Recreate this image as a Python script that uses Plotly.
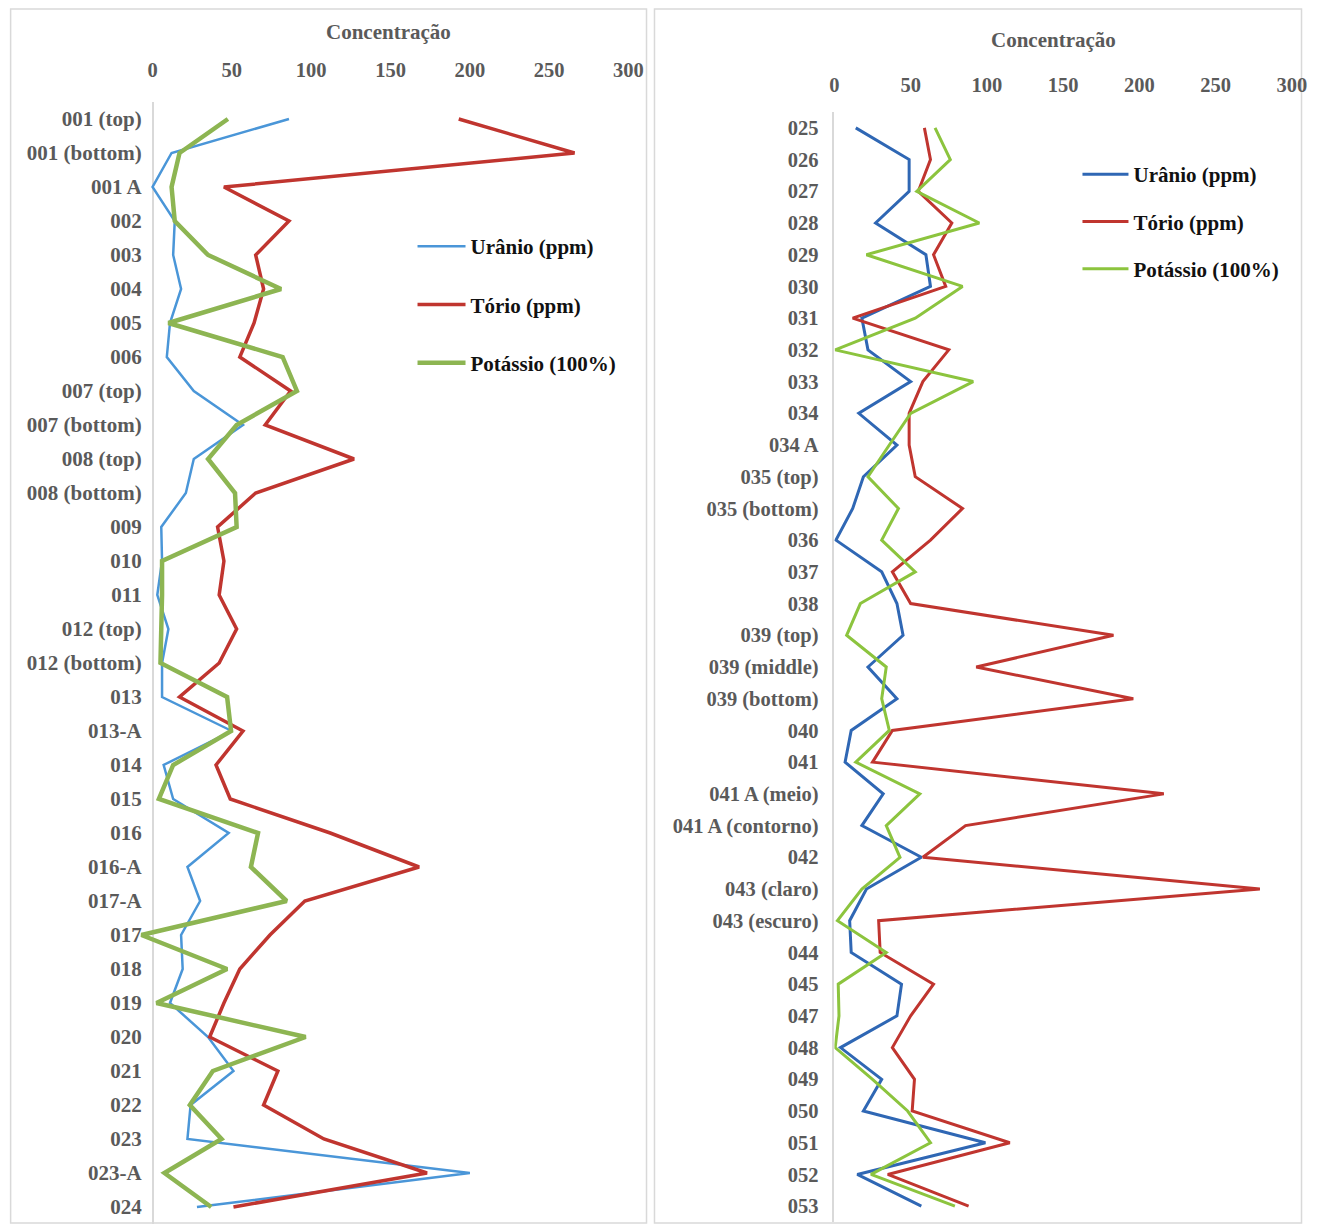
import plotly.graph_objects as go

# ---- Panel A: samples 001 to 024 ----
amostras_a = ["001 (top)", "001 (bottom)", "001 A", "002", "003", "004", "005", "006",
              "007 (top)", "007 (bottom)", "008 (top)", "008 (bottom)", "009", "010", "011",
              "012 (top)", "012 (bottom)", "013", "013-A", "014", "015", "016", "016-A",
              "017-A", "017", "018", "019", "020", "021", "022", "023", "023-A", "024"]
uranio_a = [86, 12, 0, 14, 13, 18, 11, 9, 26, 57, 26, 21, 5.5, 6, 3, 10, 6, 6, 50, 7, 13,
            48, 22, 30, 18, 19, 11, 35, 51, 24, 22, 200, 28]
torio_a = [193, 266, 45, 86, 65, 70, 64, 55, 87, 71, 127, 65, 41, 45, 42, 53, 42, 17, 57,
           40, 49, 112, 168, 96, 74, 55, 45, 36, 79, 70, 108, 173, 51]
potassio_a = [47.5, 17, 12, 14, 35, 81, 10, 82, 91, 53, 35, 52, 53, 6, 6, 5.5, 5, 47, 49.5,
              13, 4, 66.5, 62, 84.5, -7, 47, 2.5, 96.5, 38, 23.5, 43.5, 7.5, 37]

# ---- Panel B: samples 025 to 053 ----
amostras_b = ["025", "026", "027", "028", "029", "030", "031", "032", "033", "034", "034 A",
              "035 (top)", "035 (bottom)", "036", "037", "038", "039 (top)", "039 (middle)",
              "039 (bottom)", "040", "041", "041 A (meio)", "041 A (contorno)", "042",
              "043 (claro)", "043 (escuro)", "044", "045", "047", "048", "049", "050", "051",
              "052", "053"]
uranio_b = [14, 49, 49, 27, 60, 63, 18, 22, 50, 16, 41, 19, 12, 1, 31, 41, 45, 22, 41, 11,
            7, 32, 18, 57, 21, 10, 11, 44, 41, 4, 31, 19, 99, 15, 57]
torio_b = [59, 63, 55, 77, 65, 73, 12, 75, 58, 49, 49, 53, 84, 63, 38, 50, 183, 93, 196, 38,
           25, 216, 86, 58, 279, 29, 30, 65, 50, 38, 52.5, 51, 115, 35, 88]
potassio_b = [66, 76, 54, 95, 21, 84, 53, 0.5, 91, 50, 36, 22, 42, 31, 53, 17, 8, 34, 31, 36,
              14, 56, 34, 43, 18, 2, 34, 2.5, 3, 0.5, 25, 48, 63, 24, 79]

nomes = ["Urânio (ppm)", "Tório (ppm)", "Potássio (100%)"]
x_ticks = [0, 50, 100, 150, 200, 250, 300]

W, H = 1318, 1229
SERIF = "Liberation Serif"
GRAY_TXT = "#5a5a5a"
AXIS_GRAY = "#d9d9d9"

fig = go.Figure()

cores_a = ["#4a96d8", "#c0352f", "#8db552"]
larg_a = [2.5, 3.5, 4.5]
for i, (nome, vals) in enumerate(zip(nomes, [uranio_a, torio_a, potassio_a])):
    fig.add_trace(go.Scatter(
        x=vals, y=amostras_a, mode="lines", name=nome,
        line=dict(color=cores_a[i], width=larg_a[i]),
        xaxis="x", yaxis="y", legend="legend", legendgroup="a%d" % i,
    ))

cores_b = ["#2f67b4", "#c0352f", "#8cc43e"]
for i, (nome, vals) in enumerate(zip(nomes, [uranio_b, torio_b, potassio_b])):
    fig.add_trace(go.Scatter(
        x=vals, y=amostras_b, mode="lines", name=nome,
        line=dict(color=cores_b[i], width=3),
        xaxis="x2", yaxis="y2", legend="legend2", legendgroup="b%d" % i,
    ))

def px_x(p):
    return min(p / W, 1.0)

def px_y(p):
    return 1 - p / H

def serif(size, color=GRAY_TXT):
    return dict(family=SERIF, size=size, color=color, weight="bold")

fig.update_layout(
    width=W, height=H, autosize=False,
    margin=dict(l=0, r=0, t=0, b=0),
    paper_bgcolor="white", plot_bgcolor="white",
    showlegend=True,
    xaxis=dict(
        domain=[px_x(133.7), px_x(633.1)], range=[-10, 300], side="top",
        tickvals=x_ticks, showgrid=False, showline=False,
        zeroline=True, zerolinecolor=AXIS_GRAY, zerolinewidth=1.5,
        ticks="outside", ticklen=16, tickcolor="rgba(0,0,0,0)",
        tickfont=serif(20.5), anchor="y",
    ),
    yaxis=dict(
        domain=[px_y(1224), px_y(102)], type="category",
        categoryorder="array", categoryarray=amostras_a,
        range=[len(amostras_a) - 0.5, -0.5],
        showgrid=False, showline=False, zeroline=False,
        ticks="", ticklabelstandoff=-6,
        tickfont=serif(21), anchor="x",
    ),
    xaxis2=dict(
        domain=[px_x(842.2), px_x(1306.7)], range=[0, 300], side="top",
        tickvals=x_ticks, showgrid=False, showline=False, zeroline=False,
        ticks="outside", ticklen=11, tickcolor="rgba(0,0,0,0)",
        tickfont=serif(20.5), anchor="y2",
    ),
    yaxis2=dict(
        domain=[px_y(1222), px_y(112)], type="category",
        categoryorder="array", categoryarray=amostras_b,
        range=[len(amostras_b) - 0.5, -0.5],
        showgrid=False, showline=True, linecolor=AXIS_GRAY, linewidth=1.5,
        zeroline=False, ticks="outside", ticklen=10, tickcolor="rgba(0,0,0,0)",
        tickfont=serif(20.5), anchor="x2",
    ),
    legend=dict(
        x=px_x(413.8), y=px_y(226), xanchor="left", yanchor="top",
        font=serif(21, "#111111"),
        bgcolor="rgba(0,0,0,0)", tracegroupgap=28, itemwidth=48,
    ),
    legend2=dict(
        x=px_x(1089), y=px_y(154), xanchor="left", yanchor="top",
        font=serif(21, "#111111"),
        bgcolor="rgba(0,0,0,0)", tracegroupgap=17, itemwidth=46,
    ),
    annotations=[
        dict(text="Concentração", x=px_x(389.4), y=px_y(32), xref="paper", yref="paper",
             showarrow=False, xanchor="center", yanchor="middle", font=serif(21)),
        dict(text="Concentração", x=px_x(1064.6), y=px_y(40), xref="paper", yref="paper",
             showarrow=False, xanchor="center", yanchor="middle", font=serif(21)),
    ],
    shapes=[
        dict(type="rect", xref="paper", yref="paper", layer="below",
             x0=px_x(5.7), x1=px_x(651.4), y0=px_y(1223), y1=px_y(9),
             line=dict(color=AXIS_GRAY, width=1.5)),
        dict(type="rect", xref="paper", yref="paper", layer="below",
             x0=px_x(659.5), x1=px_x(1316.5), y0=px_y(1223), y1=px_y(9),
             line=dict(color=AXIS_GRAY, width=1.5)),
    ],
)

fig.write_html("out.html", config={"responsive": False})
